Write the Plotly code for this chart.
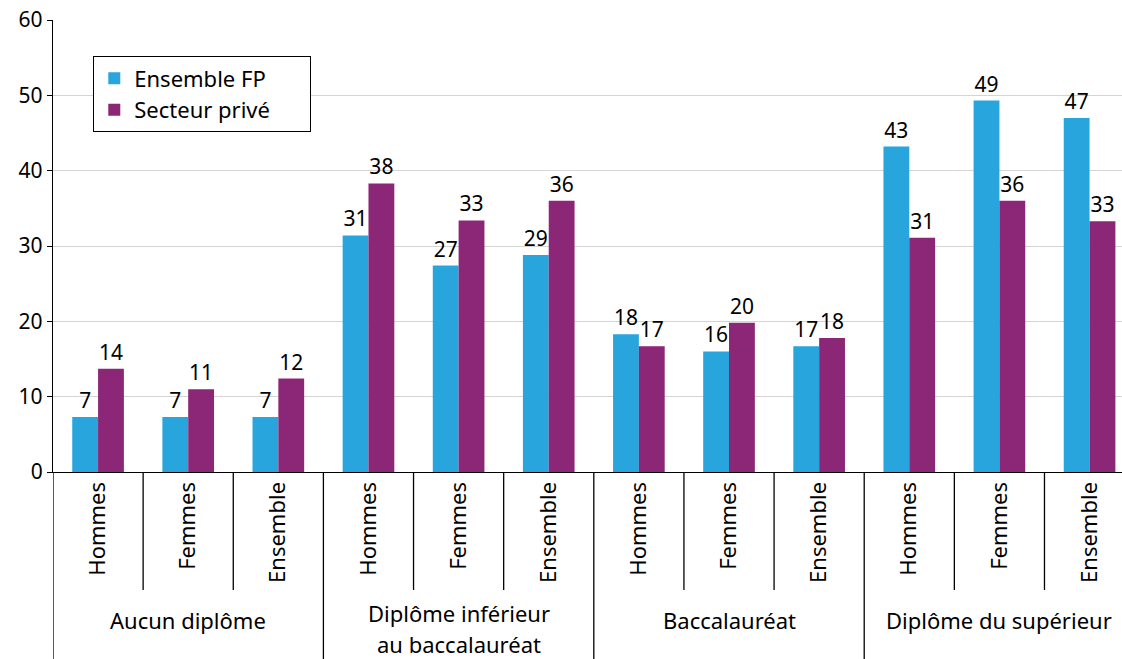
import plotly.graph_objects as go

groups = ["Aucun diplôme", "Diplôme inférieur<br>au baccalauréat", "Baccalauréat", "Diplôme du supérieur"]
subcats = ["Hommes", "Femmes", "Ensemble"]
categories = [s for g in groups for s in subcats]

fp_values = [7.3, 7.3, 7.3, 31.4, 27.4, 28.8, 18.3, 16.0, 16.7, 43.2, 49.3, 47.0]
prive_values = [13.7, 11.0, 12.4, 38.3, 33.4, 36.0, 16.7, 19.8, 17.8, 31.1, 36.0, 33.3]
fp_labels = ["7", "7", "7", "31", "27", "29", "18", "16", "17", "43", "49", "47"]
prive_labels = ["14", "11", "12", "38", "33", "36", "17", "20", "18", "31", "36", "33"]

series_names = ["Ensemble FP", "Secteur privé"]
colors = ["#29A5DD", "#8C2677"]
y_ticks = [0, 10, 20, 30, 40, 50, 60]

FONT = "Noto Sans, Open Sans, sans-serif"
TXT = 22
NUM = 21
PAD = "\u00a0" * 6
x = list(range(len(categories)))

fig = go.Figure()
for name, vals, labs, col in [(series_names[0], fp_values, fp_labels, colors[0]),
                              (series_names[1], prive_values, prive_labels, colors[1])]:
    fig.add_trace(go.Bar(
        x=x, y=vals, name=name, marker=dict(color=col, line=dict(width=0)),
        text=labs, textposition="outside", textfont=dict(size=NUM, color="black", family=FONT),
        cliponaxis=False, showlegend=False,
    ))
    fig.add_trace(go.Scatter(
        x=[None], y=[None], mode="markers", name=name + PAD,
        marker=dict(symbol="square", size=19, color=col), showlegend=True,
    ))

shapes = []
for i in range(len(categories)):
    xb = i - 0.5
    is_group = (i % 3 == 0)
    shapes.append(dict(type="line", xref="x", yref="paper", x0=xb, x1=xb,
                       y0=0, y1=(-0.42 if is_group else -0.261),
                       line=dict(color="black", width=1.3)))

annotations = []
for gi, g in enumerate(groups):
    parts = g.split("<br>")
    ys = [-0.327] if len(parts) == 1 else [-0.312, -0.3805]
    for part, yy in zip(parts, ys):
        annotations.append(dict(
            x=gi * 3 + 1, xref="x", y=yy, yref="paper",
            text=part, showarrow=False, xanchor="center", yanchor="middle",
            font=dict(size=TXT, color="black", family=FONT),
        ))

fig.update_layout(
    width=1122, height=659,
    margin=dict(l=53, r=0, t=20, b=187),
    paper_bgcolor="white", plot_bgcolor="white",
    barmode="group", bargap=0.427, bargroupgap=0,
    font=dict(family=FONT, size=TXT, color="black"),
    shapes=shapes, annotations=annotations,
    legend=dict(
        x=0.0374, y=0.92, xanchor="left", yanchor="top",
        bgcolor="white", bordercolor="black", borderwidth=1.3,
        font=dict(size=TXT, color="black", family=FONT),
        tracegroupgap=0, itemsizing="constant",
    ),
    xaxis=dict(
        range=[-0.5, 11.36], tickmode="array", tickvals=x, ticktext=categories,
        tickangle=-90, showline=True, linecolor="black", linewidth=1.3,
        showgrid=False, ticks="", zeroline=False,
        tickfont=dict(size=TXT, color="black", family=FONT),
    ),
    yaxis=dict(
        range=[0, 60], tickmode="array", tickvals=y_ticks,
        showline=True, linecolor="black", linewidth=1.3,
        ticks="outside", ticklen=5, tickcolor="black", tickwidth=1.3,
        showgrid=True, gridcolor="#d4d4d4", gridwidth=1, zeroline=False,
        tickfont=dict(size=NUM, color="black", family=FONT),
    ),
)

fig.write_html("out.html", config={"displayModeBar": False},
               post_script="document.body.style.margin='0';document.body.style.padding='0';")
